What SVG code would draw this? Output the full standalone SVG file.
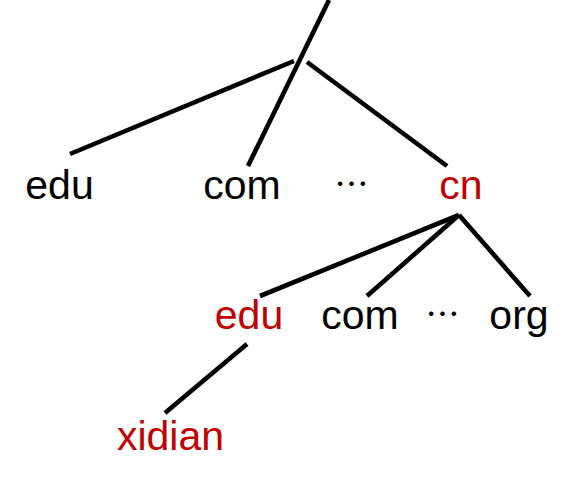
<svg xmlns="http://www.w3.org/2000/svg" width="576" height="485" viewBox="0 0 576 485">
<style>
.t{font-family:"Liberation Sans",Arial,sans-serif;font-size:41px;text-anchor:middle;fill:#000}
.r{fill:#C00000}
.d{font-family:"Noto Sans CJK SC",sans-serif;font-size:34px;text-anchor:middle;fill:#000}
.e{stroke:#000;stroke-width:4.6;fill:none}
</style>
<rect width="576" height="485" fill="#fff"/>
<g id="connectors">
<line class="e" x1="329" y1="0" x2="248" y2="166"/>
<line class="e" x1="294" y1="61" x2="70" y2="154"/>
<line class="e" x1="307" y1="62" x2="447" y2="166"/>
<line class="e" x1="459" y1="215" x2="260" y2="296"/>
<line class="e" x1="459" y1="215" x2="367" y2="296"/>
<line class="e" x1="459" y1="215" x2="530" y2="296"/>
<line class="e" x1="247" y1="344" x2="165" y2="413"/>
</g>
<g id="n-edu1"><text class="t" x="59.5" y="199">edu</text></g>
<g id="n-com1"><text class="t" x="242" y="199">com</text></g>
<g id="n-dots1"><text class="d" x="351.5" y="197">…</text></g>
<g id="n-cn"><text class="t r" x="461" y="199">cn</text></g>
<g id="n-edu2"><text class="t r" x="249" y="329">edu</text></g>
<g id="n-com2"><text class="t" x="360" y="329">com</text></g>
<g id="n-dots2"><text class="d" x="442.5" y="327">…</text></g>
<g id="n-org"><text class="t" x="519" y="329">org</text></g>
<g id="n-xidian"><text class="t r" x="170.5" y="450">xidian</text></g>
</svg>
